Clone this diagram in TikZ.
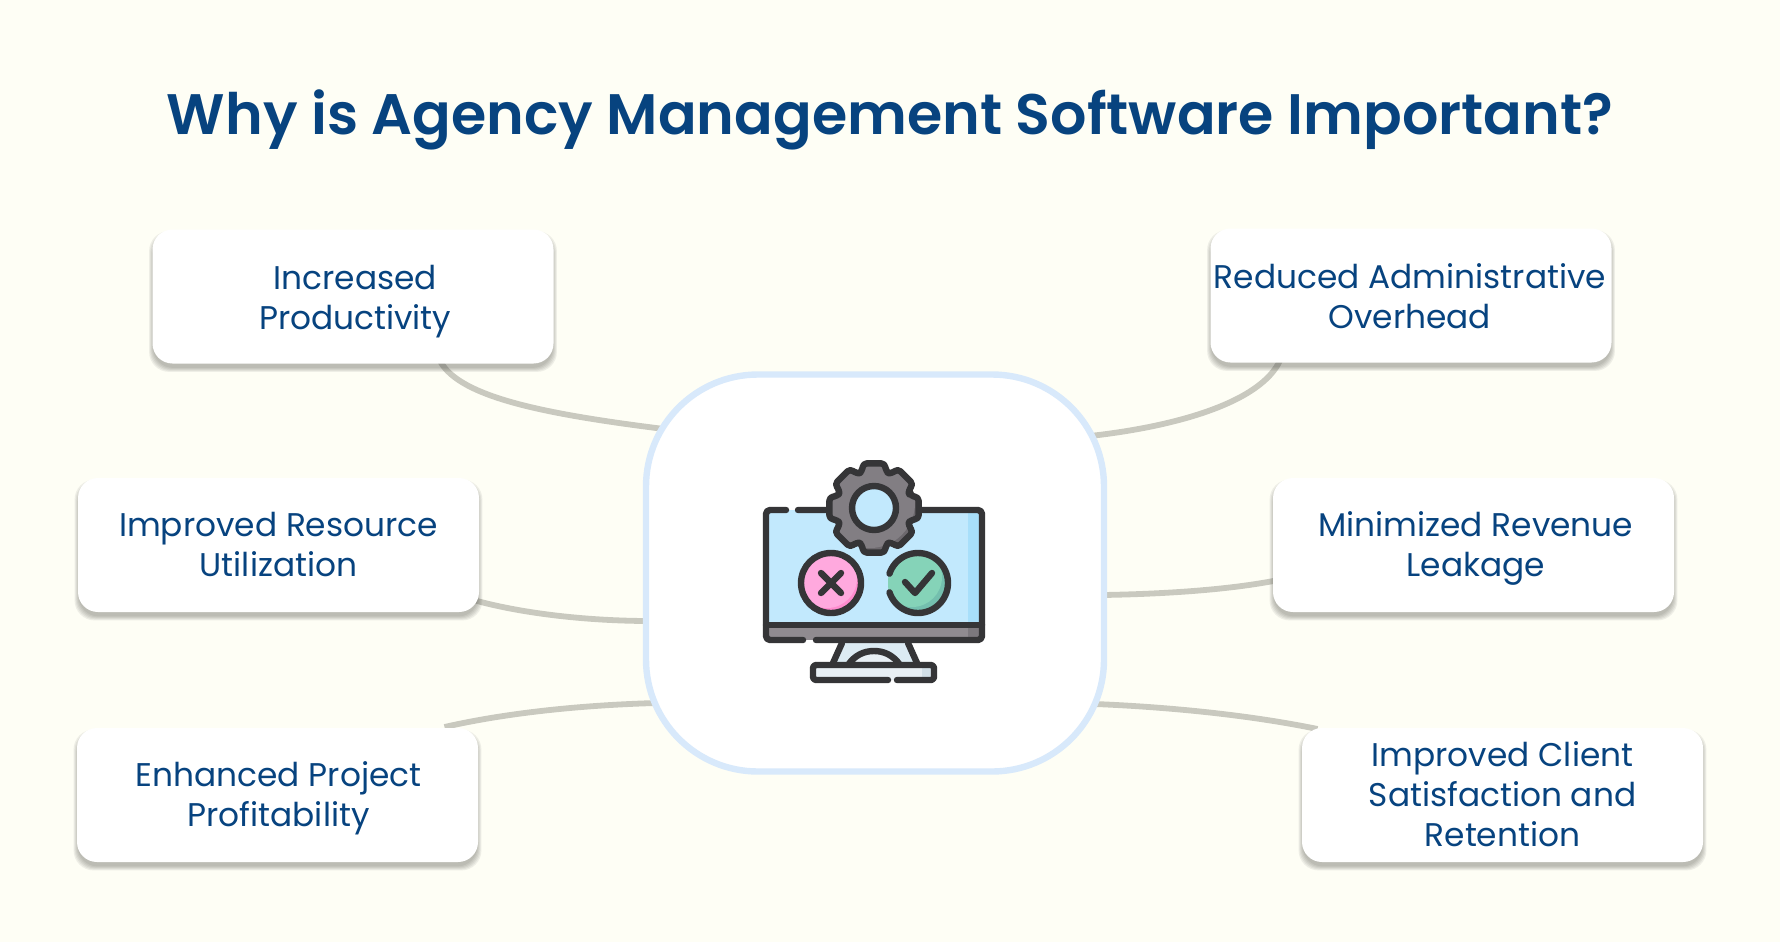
\documentclass[tikz,border=0pt]{standalone}
\usepackage{fontspec}
\setmainfont{Poppins}
\newfontfamily\titlefont{Poppins SemiBold}
\usetikzlibrary{backgrounds}
\definecolor{bgc}{HTML}{FEFEF5}
\definecolor{navy}{HTML}{07437F}
\definecolor{hubline}{HTML}{D8E9FB}
\definecolor{link}{HTML}{C9C9BF}
\definecolor{ink}{HTML}{353537}
\definecolor{screen}{HTML}{C2E9FD}
\definecolor{screend}{HTML}{A8DFFA}
\definecolor{barc}{HTML}{908B90}
\definecolor{bard}{HTML}{7C787D}
\definecolor{gearc}{HTML}{827E83}
\definecolor{geard}{HTML}{6C686D}
\definecolor{pinkc}{HTML}{FFA9DE}
\definecolor{pinkd}{HTML}{FF8CCF}
\definecolor{greenc}{HTML}{85D3B8}
\definecolor{greend}{HTML}{74BFAE}
\definecolor{standc}{HTML}{DCEBF3}
\definecolor{basec}{HTML}{E8EFF4}
\definecolor{based}{HTML}{D3E0E8}
\newcommand{\st}{\vphantom{Apy}}
\newcommand{\dn}[1]{\rule{0pt}{#1pt}}
\newcommand{\mv}[1]{\hspace*{#1pt}}
\tikzset{
  card/.style={fill=white,rounded corners=10pt,minimum width=200.5pt,minimum height=67pt,inner sep=0pt,
    align=center,text=navy,font=\fontsize{16.4}{20}\selectfont},
  hubbox/.style={fill=white,draw=hubline,line width=3.2pt,rounded corners=56pt,minimum width=229pt,minimum height=198.5pt},
  connector/.style={draw=link,line width=2.9pt},
  iconline/.style={draw=ink,line width=3.2pt,line cap=round,line join=round},
}
\newcommand{\gearpath}{(874,508) ++(-18:38)
  \foreach \a in {0,45,...,315}{ -- ({874+38*cos(\a-18)},{508+38*sin(\a-18)}) -- ({874+46*cos(\a-14)},{508+46*sin(\a-14)}) -- ({874+46*cos(\a+14)},{508+46*sin(\a+14)}) -- ({874+38*cos(\a+18)},{508+38*sin(\a+18)}) } -- cycle}
\newcommand{\softshadow}[1]{%
  \foreach \s in {3,2,1,0,-1}{%
    \fill[black!70!bgc,opacity=.085,rounded corners=10pt] ([shift={(-\s,{\s+5})}]#1.south west) rectangle ([shift={(\s,{-\s+5})}]#1.north east);}}
\begin{document}
\begin{tikzpicture}[x=0.5pt,y=-0.5pt]
\useasboundingbox (0,0) rectangle (1780,942);
\node[text=navy,font=\titlefont\fontsize{28.55}{34}\selectfont,inner sep=0pt] (title) at (890,120) {Why is Agency Management Software Important?};
\node[hubbox] (hub) at (875,573) {};
\node[card] (b1) at (353,296.5) {\dn{17}\st\mv{2.3}Increased\\\st\mv{2.3}Productivity};
\node[card] (b2) at (1411,295.5) {\dn{17}\st\mv{-1.1}Reduced Administrative\\\st\mv{-1.1}Overhead};
\node[card] (b3) at (278.5,545) {\dn{16}\st Improved Resource\\\st Utilization};
\node[card] (b4) at (1473.5,545) {\dn{16}\st\mv{2.3}Minimized Revenue\\\st\mv{2.3}Leakage};
\node[card] (b5) at (277.5,795) {\dn{16}\st\mv{1.1}Enhanced Project\\\st\mv{1.1}Profitability};
\node[card] (b6) at (1502.5,795) {\dn{16}\st Improved Client\\\st Satisfaction and\\\st Retention};
\begin{scope}[on background layer]
  \fill[bgc] (0,0) rectangle (1780,942);
  \draw[connector] ([shift={(85,60)}]b1.center) .. controls +(15,40) and +(-130,-16) .. ([shift={(-203,-143)}]hub.center);
  \draw[connector] ([shift={(-129,60)}]b2.center) .. controls +(-15,45) and +(90,-10) .. ([shift={(215,-137)}]hub.center);
  \draw[connector] ([shift={(195,55)}]b3.center) .. controls +(50,14) and +(-60,0) .. ([shift={(-225,48)}]hub.center);
  \draw[connector] ([shift={(-195,35)}]b4.center) .. controls +(-50,10) and +(60,-1) .. ([shift={(228,22)}]hub.center);
  \draw[connector] ([shift={(167,-68)}]b5.center) .. controls +(66,-15) and +(-70,2) .. ([shift={(-219,130)}]hub.center);
  \draw[connector] ([shift={(-185,-66)}]b6.center) .. controls +(-68,-14) and +(74,3) .. ([shift={(220,131)}]hub.center);
  \foreach \b in {b1,b2,b3,b4,b5,b6}{\softshadow{\b}}
\end{scope}
% monitor
\fill[screen] (766,510) rectangle (982,625);
\fill[screend] (968,510) rectangle (982,625);
\fill[barc] (766,625) rectangle (982,640);
\fill[bard] (968,625) rectangle (982,640);
% stand
\path[fill=standc] (842,643) -- (833,664) -- (917,664) -- (908,643) -- cycle;
\draw[iconline] (842,643) -- (833,663) (908,643) -- (917,663);
\path[iconline,fill=basec] (848,665) .. controls (855,655) and (864,651) .. (874,651) .. controls (884,651) and (893,655) .. (900,665);
% base
\fill[basec,rounded corners=3pt] (813,665) rectangle (934,680);
\fill[based] (922,667) rectangle (932,678);
\draw[iconline,rounded corners=1.5pt] (888,680) -- (813,680) -- (813,665) -- (934,665) -- (934,680) -- (897,680);
% monitor outline
\draw[iconline,rounded corners=2pt] (786,510) -- (766,510) -- (766,640) -- (803,640);
\draw[iconline,rounded corners=2pt] (816,640) -- (982,640) -- (982,510) -- (798,510);
\draw[iconline] (766,625) -- (982,625);
% gear
\begin{scope}
  \clip[rounded corners=2pt] \gearpath;
  \fill[geard] (800,440) rectangle (950,580);
  \fill[gearc] (870,503) circle[radius=45];
\end{scope}
\draw[iconline,rounded corners=2pt] \gearpath;
\draw[iconline,fill=screen] (874,508) circle[radius=22];
% cross
\begin{scope}
  \clip (831,583) circle[radius=30];
  \fill[pinkd] (790,540) rectangle (870,620);
  \fill[pinkc] (827,578) circle[radius=30];
\end{scope}
\draw[iconline] (831,583) circle[radius=30];
\draw[iconline] (821,573) -- (841,593) (841,573) -- (821,593);
% check
\begin{scope}
  \clip (918,583) circle[radius=30];
  \fill[greend] (880,540) rectangle (960,620);
  \fill[greenc] (912,577) circle[radius=30];
\end{scope}
\draw[iconline] plot[domain=-162:162,samples=60,smooth] ({918+30*cos(\x)},{583+30*sin(\x)});
\draw[iconline] (905,582) -- (915,593) -- (932,573);
\end{tikzpicture}
\end{document}
